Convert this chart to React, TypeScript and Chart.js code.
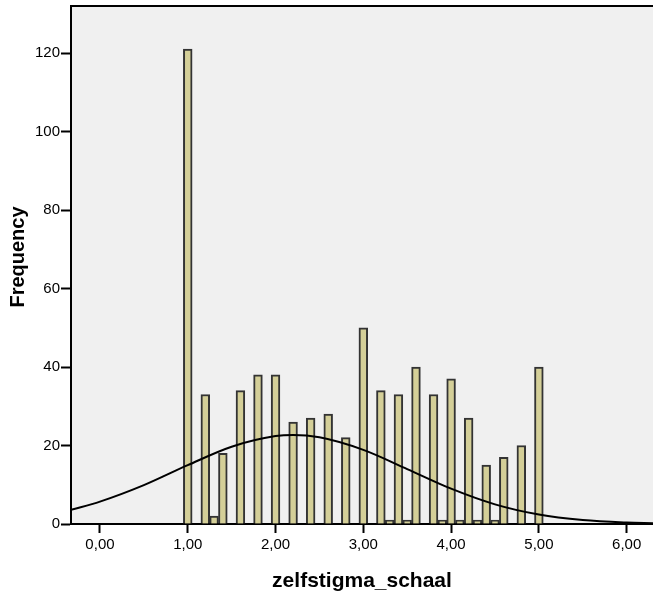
import React, { useEffect, useRef } from "react";
import { Chart, registerables } from "chart.js";

Chart.register(...registerables);

// Histogram bins (bin centres) and their frequencies
const binCenters = [1.0, 1.2, 1.3, 1.4, 1.6, 1.8, 2.0, 2.2, 2.4, 2.6, 2.8, 3.0, 3.2, 3.3, 3.4, 3.5, 3.6, 3.8, 3.9, 4.0, 4.1, 4.2, 4.3, 4.4, 4.5, 4.6, 4.8, 5.0];
const frequencies = [121, 33, 2, 18, 34, 38, 38, 26, 27, 28, 22, 50, 34, 1, 33, 1, 40, 33, 1, 37, 1, 27, 1, 15, 1, 17, 20, 40];

// Normal curve
const curveX = [-0.33, 0, 0.5, 1.0, 1.5, 2.0, 2.2, 2.5, 3.0, 3.5, 4.0, 4.5, 5.0, 5.5, 6.0, 6.3];
const curveY = [3.6, 5.7, 9.9, 15.0, 19.7, 22.4, 22.7, 22.1, 18.9, 14.0, 9.0, 5.0, 2.4, 1.0, 0.36, 0.18];

// Axis ticks
const xTickValues = [0, 1, 2, 3, 4, 5, 6];
const yTickValues = [0, 20, 40, 60, 80, 100, 120];

const xTitle = "zelfstigma_schaal";
const yTitle = "Frequency";

const FONT = "'Liberation Sans', Arial, sans-serif";

const plotBgPlugin = {
  id: "plotBg",
  beforeDraw(chart: any) {
    const { ctx, chartArea } = chart;
    ctx.save();
    ctx.fillStyle = "#F0F0F0";
    ctx.fillRect(chartArea.left, chartArea.top, chartArea.right - chartArea.left, chartArea.bottom - chartArea.top);
    ctx.restore();
  },
  afterDraw(chart: any) {
    const { ctx, chartArea } = chart;
    ctx.save();
    ctx.strokeStyle = "#000";
    ctx.lineWidth = 2;
    ctx.beginPath();
    ctx.moveTo(chartArea.left - 1, chartArea.top);
    ctx.lineTo(chartArea.right + 1, chartArea.top);
    ctx.stroke();
    // y axis title
    ctx.translate(18, 257);
    ctx.rotate(-Math.PI / 2);
    ctx.fillStyle = "#000";
    ctx.font = `bold 20px ${FONT}`;
    ctx.textAlign = "center";
    ctx.textBaseline = "middle";
    ctx.fillText(yTitle, 0, 0);
    ctx.restore();
  },
};

export default function App() {
  const ref = useRef<HTMLCanvasElement | null>(null);

  useEffect(() => {
    if (!ref.current) return;
    const tickFont = { family: FONT, size: 15 };
    const titleFont = { family: FONT, size: 21, weight: "bold" as const };
    const chart = new Chart(ref.current, {
      type: "bar",
      data: {
        datasets: [
          {
            type: "bar",
            data: binCenters.map((x, i) => ({ x, y: frequencies[i] })),
            backgroundColor: "#D4CF98",
            borderColor: "#333333",
            borderWidth: 2,
            barPercentage: 1,
            categoryPercentage: 1,
            order: 2,
          } as any,
          {
            type: "line",
            data: curveX.map((x, i) => ({ x, y: curveY[i] })),
            borderColor: "#000",
            borderWidth: 2,
            pointRadius: 0,
            fill: false,
            cubicInterpolationMode: "monotone",
            order: 1,
          } as any,
        ],
      },
      options: {
        responsive: false,
        animation: false,
        layout: { padding: { top: 6, right: 0, left: 0, bottom: 0 } },
        plugins: { legend: { display: false }, tooltip: { enabled: false } },
        scales: {
          x: {
            type: "linear",
            min: -0.33,
            max: 6.3,
            offset: false,
            afterBuildTicks: (s: any) => {
              s.ticks = xTickValues.map((v) => ({ value: v }));
            },
            afterFit: (s: any) => {
              s.height = 70;
              s.paddingLeft = 0;
              s.paddingRight = 0;
              s.paddingTop = 0;
              s.paddingBottom = 0;
            },
            grid: { display: true, offset: false, drawOnChartArea: false, drawTicks: true, tickLength: 9, tickWidth: 2, color: "#000" },
            border: { display: true, color: "#000", width: 2 },
            ticks: {
              color: "#000",
              font: tickFont,
              padding: 3,
              maxRotation: 0,
              autoSkip: false,
              callback: (v: any) => Number(v).toFixed(2).replace(".", ","),
            },
            title: { display: true, text: xTitle, color: "#000", font: titleFont, padding: { top: 0, bottom: 0 } },
          },
          y: {
            type: "linear",
            min: 0,
            max: 132,
            afterBuildTicks: (s: any) => {
              s.ticks = yTickValues.map((v) => ({ value: v }));
            },
            afterFit: (s: any) => {
              s.width = 71;
              s.paddingLeft = 0;
              s.paddingRight = 0;
              s.paddingTop = 0;
              s.paddingBottom = 0;
            },
            grid: { display: true, drawOnChartArea: false, drawTicks: true, tickLength: 10, tickWidth: 2, color: "#000" },
            border: { display: true, color: "#000", width: 2 },
            ticks: { color: "#000", font: tickFont, padding: 1, autoSkip: false },
            title: { display: false },
          },
        },
      } as any,
      plugins: [plotBgPlugin],
    });
    return () => chart.destroy();
  }, []);

  return (
    <div style={{ position: "absolute", left: 0, top: 0, width: 653, height: 594, background: "#fff" }}>
      <canvas ref={ref} width={653} height={594} style={{ display: "block" }} />
    </div>
  );
}
